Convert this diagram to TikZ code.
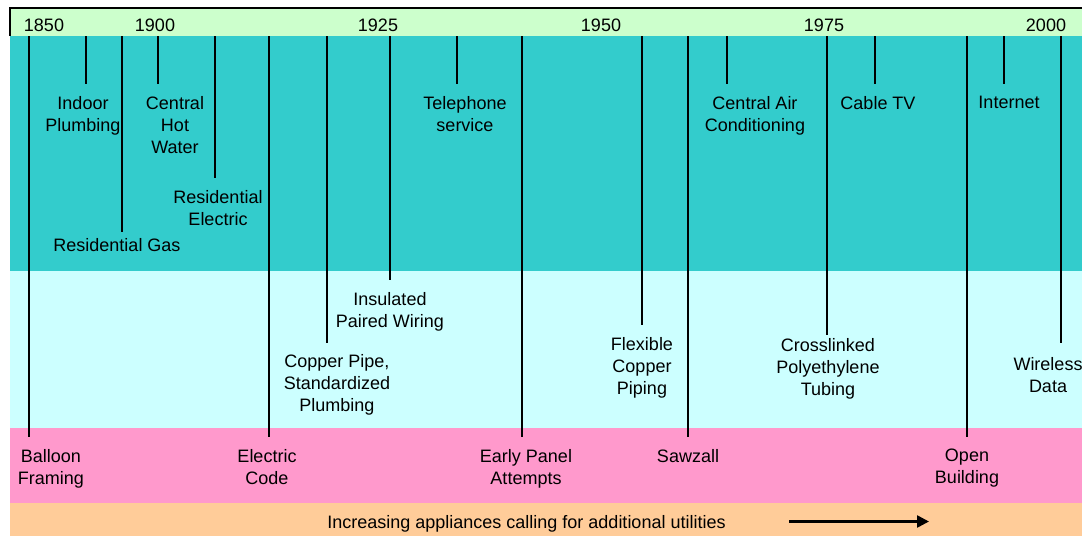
\documentclass[tikz,border=0pt]{standalone}
\usepackage{fontspec}
\setmainfont{Liberation Sans}
\usetikzlibrary{arrows.meta,positioning}
\definecolor{barGreen}{HTML}{CCFFCC}
\definecolor{bandTeal}{HTML}{33CCCC}
\definecolor{bandCyan}{HTML}{CCFFFF}
\definecolor{bandPink}{HTML}{FF99CC}
\definecolor{bandOrange}{HTML}{FFCC99}
\tikzset{
  evt/.style={align=center, font=\fontsize{18}{22}\selectfont, inner sep=0pt,
    outer ysep=12pt, anchor=north},
  year/.style={font=\fontsize{18}{22}\selectfont, inner sep=0pt},
  tick/.style={line width=1.4pt}
}

\begin{document}
\begin{tikzpicture}[x=1pt, y=-1pt]
  \useasboundingbox (0,0) rectangle (1082,536);
  \clip (0,0) rectangle (1082,536);

  % Bands
  \fill[barGreen] (10,8) rectangle (1082,36);
  \fill[bandTeal] (10,36) rectangle (1082,270.5);
  \fill[bandCyan] (10,270.5) rectangle (1082,427.5);
  \fill[bandPink] (10,427.5) rectangle (1082,503);
  \fill[bandOrange] (10,503) rectangle (1082,536);
  \draw[line width=2pt] (10,8) -- (1082,8);
  \draw[line width=1.4pt] (10,7) -- (10,36);

  % Years
  \node[year] (y1850) at (44,25.5) {1850};
  \node[year] (y1900) at (155,25.5) {1900};
  \node[year] (y1925) at (378,25.5) {1925};
  \node[year] (y1950) at (601,25.5) {1950};
  \node[year] (y1975) at (824,25.5) {1975};
  \node[year] (y2000) at (1046,25.5) {2000};

  % Top band
  \coordinate (indoorTop) at (86,36);
  \node[evt] (indoor) at (83,84) {Indoor\\Plumbing};
  \draw[tick] (indoorTop) -- (indoorTop |- indoor.north);

  \coordinate (gasTop) at (122,36);
  \node[evt, outer ysep=6pt] (gas) at (117,232) {Residential Gas};
  \draw[tick] (gasTop) -- (gasTop |- gas.north);

  \coordinate (hotTop) at (158,36);
  \node[evt] (hot) at (175,84) {Central\\Hot\\Water};
  \draw[tick] (hotTop) -- (hotTop |- hot.north);

  \coordinate (resElecTop) at (215,36);
  \node[evt] (resElec) at (218,178) {Residential\\Electric};
  \draw[tick] (resElecTop) -- (resElecTop |- resElec.north);

  \coordinate (phoneTop) at (457,36);
  \node[evt] (phone) at (465,84) {Telephone\\service};
  \draw[tick] (phoneTop) -- (phoneTop |- phone.north);

  \coordinate (airTop) at (727,36);
  \node[evt] (air) at (755,84) {Central Air\\Conditioning};
  \draw[tick] (airTop) -- (airTop |- air.north);

  \coordinate (cableTop) at (875,36);
  \node[evt] (cable) at (878,84) {Cable TV};
  \draw[tick] (cableTop) -- (cableTop |- cable.north);

  \coordinate (netTop) at (1004,36);
  \node[evt] (net) at (1009,84) {Internet};
  \draw[tick] (netTop) -- (netTop |- net.north);

  % Middle band
  \coordinate (copperTop) at (327,36);
  \node[evt, outer ysep=11pt] (copper) at (337,343) {Copper Pipe,\\Standardized\\Plumbing};
  \draw[tick] (copperTop) -- (copperTop |- copper.north);

  \coordinate (wiringTop) at (390,36);
  \node[evt] (wiring) at (390,280) {Insulated\\Paired Wiring};
  \draw[tick] (wiringTop) -- (wiringTop |- wiring.north);

  \coordinate (flexTop) at (642,36);
  \node[evt] (flex) at (642,325) {Flexible\\Copper\\Piping};
  \draw[tick] (flexTop) -- (flexTop |- flex.north);

  \coordinate (pexTop) at (827,36);
  \node[evt, outer ysep=3pt] (pex) at (828,335) {Crosslinked\\Polyethylene\\Tubing};
  \draw[tick] (pexTop) -- (pexTop |- pex.north);

  \coordinate (wirelessTop) at (1061,36);
  \node[evt, outer ysep=14pt] (wireless) at (1048,343) {Wireless\\Data};
  \draw[tick] (wirelessTop) -- (wirelessTop |- wireless.north);

  % Bottom band
  \coordinate (balloonTop) at (29,36);
  \node[evt] (balloon) at (51,437) {Balloon\\Framing};
  \draw[tick] (balloonTop) -- (balloonTop |- balloon.north);

  \coordinate (codeTop) at (269,36);
  \node[evt] (code) at (267,437) {Electric\\Code};
  \draw[tick] (codeTop) -- (codeTop |- code.north);

  \coordinate (panelTop) at (522,36);
  \node[evt] (panel) at (526,437) {Early Panel\\Attempts};
  \draw[tick] (panelTop) -- (panelTop |- panel.north);

  \coordinate (sawTop) at (688,36);
  \node[evt] (saw) at (688,437) {Sawzall};
  \draw[tick] (sawTop) -- (sawTop |- saw.north);

  \coordinate (openTop) at (967,36);
  \node[evt] (open) at (967,437) {Open\\Building};
  \draw[tick] (openTop) -- (openTop |- open.north);

  % Appliances trend
  \node[year, anchor=base] (trend) at (526.5,528) {Increasing appliances calling for additional utilities};
  \coordinate (trendStart) at (789,521.5);
  \coordinate (trendEnd) at (929,521.5);
  \draw[line width=2.5pt, -{Triangle[length=12pt, width=12pt]}] (trendStart) -- (trendEnd);
\end{tikzpicture}
\end{document}
